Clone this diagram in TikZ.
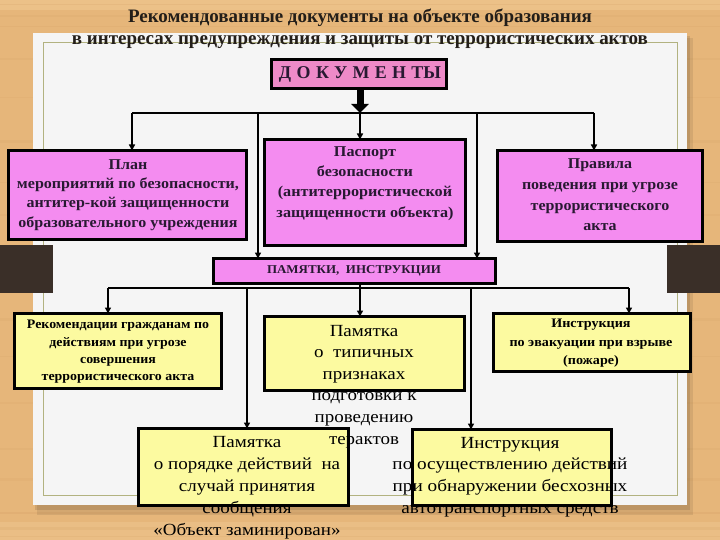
\documentclass[tikz,border=0pt]{standalone}
\usepackage{fontspec}
\setmainfont{Liberation Serif}
\usepackage{graphicx}
\usetikzlibrary{arrows.meta}

\definecolor{wood}{RGB}{230,182,122}
\definecolor{woodlight}{RGB}{242,204,150}
\definecolor{wooddark}{RGB}{205,150,92}
\definecolor{panelc}{RGB}{245,245,245}
\definecolor{frameline}{RGB}{178,178,128}
\definecolor{pinkbox}{RGB}{244,140,240}
\definecolor{docpink}{RGB}{238,138,200}
\definecolor{yelbox}{RGB}{252,250,160}
\definecolor{darkblk}{RGB}{58,47,40}
\definecolor{ink}{RGB}{40,25,50}
\definecolor{titleink}{RGB}{35,30,25}

\newcommand\wl[2]{\resizebox{#1}{\height}{\begin{tabular}{@{}c@{}}#2\end{tabular}}}

\begin{document}
\begin{tikzpicture}[x=1pt,y=-1pt,
  box/.style={draw=black,line width=3pt,inner sep=0pt,outer sep=0pt},
  pbox/.style={box,fill=pinkbox},
  ybox/.style={box,fill=yelbox},
  ptxt/.style={inner sep=0pt,text=ink},
  ytxt/.style={inner sep=0pt,text=black},
  ttl/.style={inner sep=0pt,text=titleink,font=\fontsize{19}{22}\selectfont\bfseries},
  arr/.style={line width=1.5pt,-{Triangle[length=6pt,width=6pt]}},
  busline/.style={line width=1.5pt}
]
\useasboundingbox (0,0) rectangle (720,540);
% wood background
\fill[wood] (0,0) rectangle (720,540);
\fill[woodlight,opacity=0.5] (0,0) rectangle (720,10);
\fill[woodlight,opacity=0.4] (0,522) rectangle (720,540);
\foreach \yy/\hh/\op in {4/1.5/0.18,15/2.5/0.12,26/1/0.15,58/2/0.12,97/1.5/0.1,140/3/0.12,182/1/0.12,214/2/0.1,318/2.5/0.12,356/1/0.12,402/2/0.1,448/1.5/0.12,478/3/0.1,512/1.5/0.2,527/2.5/0.15,536/1/0.15}{
  \fill[wooddark,opacity=\op] (0,\yy) rectangle (720,\yy+\hh);
}
% panel shadow and panel
\fill[black,opacity=0.08] (37,38) rectangle (693,515);
\fill[black,opacity=0.10] (35,36) rectangle (690,510);
\fill[panelc] (33,33) rectangle (687,505);
\draw[frameline,line width=1pt] (43,43) rectangle (677,495);
% dark blocks
\fill[darkblk] (0,245) rectangle (53,293);
\fill[darkblk] (667,245) rectangle (720,293);

% title
\node[ttl] (title1) at (360,18) {\wl{464pt}{Рекомендованные документы на объекте образования}};
\node[ttl] (title2) at (360,40) {\wl{576pt}{в интересах предупреждения и защиты от террористических актов}};

% boxes
\node[box,fill=docpink,minimum width=175pt,minimum height=29pt] (docs) at (359,74) {};
\node[pbox,minimum width=238pt,minimum height=89pt] (plan) at (127.5,195) {};
\node[pbox,minimum width=201pt,minimum height=106pt] (pass) at (365,192.5) {};
\node[pbox,minimum width=205pt,minimum height=91pt] (rules) at (600,196) {};
\node[pbox,minimum width=282pt,minimum height=25pt] (pam) at (354.5,271) {};
\node[ybox,minimum width=207pt,minimum height=75pt] (rec) at (118,351) {};
\node[ybox,minimum width=200pt,minimum height=74pt] (typ) at (364.5,353.5) {};
\node[ybox,minimum width=197pt,minimum height=58pt] (evac) at (592,342.5) {};
\node[ybox,minimum width=210pt,minimum height=77pt] (order) at (243.5,467) {};
\node[ybox,minimum width=199pt,minimum height=76pt] (auto) at (512,467.5) {};

% connectors level 1
\coordinate (b1L) at (132,113);
\coordinate (b1a) at (258,113);
\coordinate (b1c) at (360,113);
\coordinate (b1b) at (477,113);
\coordinate (b1R) at (594,113);
\draw[line width=7pt,-{Triangle[length=9pt,width=17pt]}] (b1c |- docs.south) -- (b1c);
\draw[busline] (b1L) -- (b1R);
\draw[arr] (b1L) -- (b1L |- plan.north);
\draw[arr] (b1a) -- (b1a |- pam.north);
\draw[arr] (b1c) -- (b1c |- pass.north);
\draw[arr] (b1b) -- (b1b |- pam.north);
\draw[arr] (b1R) -- (b1R |- rules.north);

% connectors level 2
\coordinate (b2L) at (108,288);
\coordinate (b2a) at (247,288);
\coordinate (b2c) at (360,288);
\coordinate (b2b) at (471,288);
\coordinate (b2R) at (629,288);
\draw[busline] (b2L) -- (b2R);
\draw[arr] (b2L) -- (b2L |- rec.north);
\draw[arr] (b2a) -- (b2a |- order.north);
\draw[arr] (b2c |- pam.south) -- (b2c |- typ.north);
\draw[arr] (b2b) -- (b2b |- auto.north);
\draw[arr] (b2R) -- (b2R |- evac.north);

% texts
\node[ptxt,font=\fontsize{18}{20}\selectfont\bfseries] (docst) at (360,75)
  {\wl{162pt}{{\addfontfeatures{LetterSpace=30}ДОКУМЕНТ}Ы}};
\node[ptxt,font=\fontsize{15}{19.3}\selectfont\bfseries] (plant) at (128,194.3)
  {\wl{222pt}{План\\мероприятий по безопасности,\\антитер-кой защищенности\\образовательного учреждения}};
\node[ptxt,font=\fontsize{15}{20}\selectfont\bfseries] (passt) at (365,183)
  {\wl{177pt}{Паспорт\\безопасности\\(антитеррористической\\защищенности объекта)}};
\node[ptxt,font=\fontsize{15}{20.7}\selectfont\bfseries] (rulest) at (600,195.8)
  {\wl{156pt}{Правила\\поведения при угрозе\\террористического\\акта}};
\node[ptxt,font=\fontsize{12}{14}\selectfont\bfseries] (pamt) at (354,270.5)
  {\wl{174pt}{ПАМЯТКИ, \ ИНСТРУКЦИИ}};
\node[ytxt,font=\fontsize{13}{17.3}\selectfont\bfseries] (rect) at (118,351.3)
  {\wl{182pt}{Рекомендации гражданам по\\действиям при угрозе\\совершения\\террористического акта}};
\node[ytxt,font=\fontsize{13}{18.5}\selectfont\bfseries] (evact) at (591,342.7)
  {\wl{163pt}{Инструкция\\по эвакуации при взрыве\\(пожаре)}};
\node[ytxt,font=\fontsize{17}{21.6}\selectfont] (typt) at (364,385.8)
  {\wl{105pt}{Памятка\\о \ типичных\\признаках\\подготовки к\\проведению\\терактов}};
\node[ytxt,font=\fontsize{17}{22}\selectfont] (ordert) at (247,487.4)
  {\wl{187pt}{Памятка\\о порядке действий \ на\\случай принятия\\сообщения\\«Объект заминирован»}};
\node[ytxt,font=\fontsize{17}{21.7}\selectfont] (autot) at (510,476.3)
  {\wl{235pt}{Инструкция\\по осуществлению действий\\при обнаружении бесхозных\\автотранспортных средств}};
\end{tikzpicture}
\end{document}
